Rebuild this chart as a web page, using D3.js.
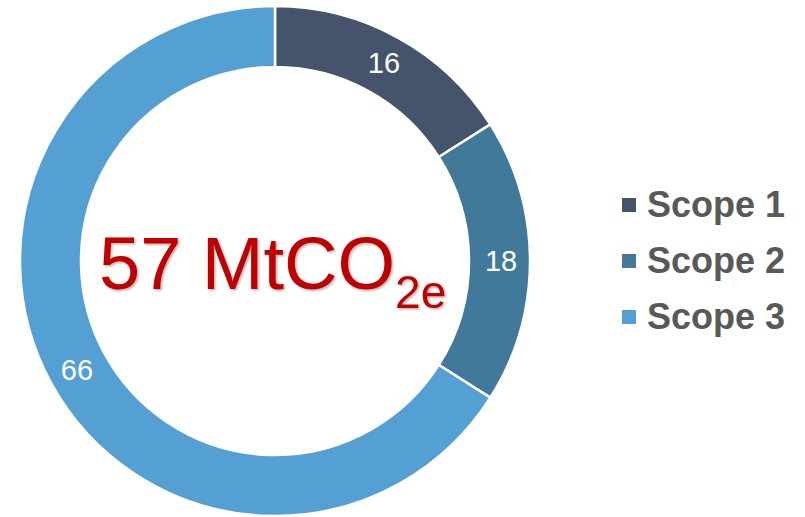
<!DOCTYPE html>
<html><head><meta charset="utf-8">
<script src="https://cdn.jsdelivr.net/npm/d3@7"></script>
<style>body{margin:0;background:#fff;}svg{display:block;}</style>
</head><body>
<script>
const categories = ["Scope 1", "Scope 2", "Scope 3"];
const values = [16, 18, 66];
const colors = ["#46546B", "#41799B", "#54A0D2"];
const centerLabel = "57 MtCO";
const centerSub = "2e";

const W = 805, H = 517;
const svg = d3.select("body").append("svg").attr("width", W).attr("height", H);
const defs = svg.append("defs");
const f = defs.append("filter").attr("id","sh").attr("x","-10%").attr("y","-10%").attr("width","120%").attr("height","130%");
f.append("feDropShadow").attr("dx",1.5).attr("dy",1.5).attr("stdDeviation",1.2).attr("flood-color","#000").attr("flood-opacity",0.3);

const cx = 275, cy = 261, R = 255, r = 194;
const g = svg.append("g").attr("transform", `translate(${cx},${cy})`);
const data = categories.map((c,i)=>({c, v: values[i], col: colors[i]}));
const pie = d3.pie().value(d=>d.v).sort(null);
const arc = d3.arc().innerRadius(r).outerRadius(R);
const arcs = pie(data);
g.selectAll("path").data(arcs).join("path")
  .attr("d", arc).attr("fill", d=>d.data.col)
  .attr("stroke", "#fff").attr("stroke-width", 2.5);

const labelArc = d3.arc().innerRadius(226).outerRadius(226);
g.selectAll("text.val").data(arcs).join("text").attr("class","val")
  .attr("transform", d=>`translate(${labelArc.centroid(d)})`)
  .attr("text-anchor","middle").attr("dy","0.36em")
  .attr("font-family","Liberation Sans, Arial, sans-serif").attr("font-size",29)
  .attr("fill","#fff").text(d=>d.data.v);

const t = svg.append("text").attr("x", 99).attr("y", 289)
  .attr("font-family","Liberation Sans, Arial, sans-serif").attr("font-size",74)
  .attr("fill","#C00000").attr("filter","url(#sh)");
t.append("tspan").text(centerLabel);
t.append("tspan").attr("font-size",46).attr("dy",19).text(centerSub);

const lg = svg.append("g");
data.forEach((d,i)=>{
  const y = 217 + i*56;
  lg.append("rect").attr("x",622).attr("y",y-19).attr("width",14).attr("height",14).attr("fill",d.col);
  lg.append("text").attr("x",647).attr("y",y)
    .attr("font-family","Liberation Sans, Arial, sans-serif").attr("font-size",36).attr("font-weight","bold")
    .attr("fill","#595959").text(d.c);
});
</script>
</body></html>
